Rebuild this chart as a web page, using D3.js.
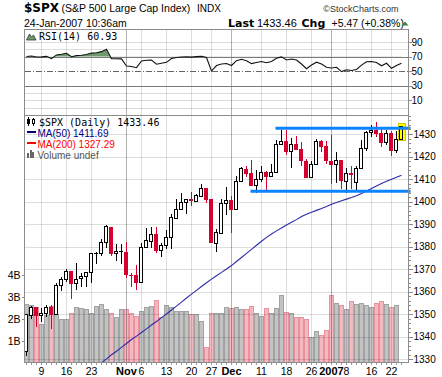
<!DOCTYPE html>
<html>
<head>
<meta charset="utf-8">
<script src="https://cdn.jsdelivr.net/npm/d3@7"></script>
<style>
  body { margin: 0; background: #fff; }
  svg { display: block; }
</style>
</head>
<body>
<div id="chart"></div>
<script>
// trading days shown on the chart
const dates = [
  "2006-10-04","2006-10-05","2006-10-06","2006-10-09","2006-10-10","2006-10-11","2006-10-12","2006-10-13",
  "2006-10-16","2006-10-17","2006-10-18","2006-10-19","2006-10-20","2006-10-23","2006-10-24","2006-10-25",
  "2006-10-26","2006-10-27","2006-10-30","2006-10-31","2006-11-01","2006-11-02","2006-11-03","2006-11-06",
  "2006-11-07","2006-11-08","2006-11-09","2006-11-10","2006-11-13","2006-11-14","2006-11-15","2006-11-16",
  "2006-11-17","2006-11-20","2006-11-21","2006-11-22","2006-11-24","2006-11-27","2006-11-28","2006-11-29",
  "2006-11-30","2006-12-01","2006-12-04","2006-12-05","2006-12-06","2006-12-07","2006-12-08","2006-12-11",
  "2006-12-12","2006-12-13","2006-12-14","2006-12-15","2006-12-18","2006-12-19","2006-12-20","2006-12-21",
  "2006-12-22","2006-12-26","2006-12-27","2006-12-28","2006-12-29","2007-01-03","2007-01-04","2007-01-05",
  "2007-01-08","2007-01-09","2007-01-10","2007-01-11","2007-01-12","2007-01-16","2007-01-17","2007-01-18",
  "2007-01-19","2007-01-22","2007-01-23","2007-01-24"
];

const open = [
  1333.81,1349.84,1353.22,1349.58,1350.62,1353.28,1349.94,1362.82,1365.61,1369.05,1363.93,1365.95,1366.94,1368.58,1377.02,1377.36,
  1382.21,1388.89,1377.30,1377.93,1377.76,1367.44,1367.31,1364.27,1379.75,1382.50,1385.43,1378.33,1380.58,1384.36,1392.91,1396.53,
  1399.76,1401.17,1400.43,1402.69,1405.94,1400.95,1381.61,1386.11,1399.47,1400.63,1396.67,1409.10,1414.40,1412.86,1407.27,1409.81,
  1413.00,1411.32,1413.16,1425.48,1427.08,1422.42,1425.51,1423.20,1418.10,1410.75,1416.63,1426.77,1424.71,1418.03,1416.60,1418.34,
  1409.26,1412.84,1408.70,1414.84,1423.82,1430.73,1431.77,1430.59,1426.35,1430.47,1422.95,1427.96
];
const high = [
  1350.20,1353.79,1353.22,1352.69,1354.23,1353.97,1363.76,1366.63,1370.20,1369.05,1372.87,1368.09,1368.66,1377.40,1377.78,1383.61,
  1389.45,1388.89,1381.22,1381.21,1381.95,1368.39,1371.68,1381.40,1388.19,1388.61,1388.92,1381.47,1387.61,1394.49,1401.35,1403.76,
  1401.21,1404.37,1403.49,1407.89,1405.94,1400.95,1387.91,1401.14,1406.30,1402.46,1411.23,1415.27,1415.93,1418.27,1414.09,1415.60,
  1413.78,1416.64,1427.23,1431.63,1431.81,1428.30,1429.05,1426.40,1418.82,1417.91,1427.72,1427.26,1427.00,1429.42,1421.84,1418.34,
  1414.98,1415.61,1415.99,1427.12,1431.23,1433.93,1435.27,1432.96,1431.57,1431.39,1431.33,1433.46
];
const low = [
  1331.48,1347.75,1344.21,1346.55,1348.60,1343.57,1349.94,1360.50,1364.48,1356.87,1360.95,1362.06,1362.10,1363.94,1372.42,1376.00,
  1379.47,1375.85,1373.46,1372.19,1366.26,1362.21,1360.98,1364.27,1379.19,1379.33,1377.31,1375.60,1378.80,1379.07,1392.13,1396.53,
  1394.55,1397.85,1399.99,1402.26,1399.25,1381.44,1377.83,1386.11,1393.83,1385.93,1396.67,1408.78,1411.05,1406.80,1403.67,1408.56,
  1404.75,1411.05,1413.16,1425.48,1420.65,1414.88,1423.51,1415.90,1410.28,1410.45,1416.63,1422.05,1416.84,1407.86,1408.43,1405.75,
  1403.97,1405.42,1405.32,1414.84,1422.58,1428.62,1428.57,1424.21,1425.19,1420.40,1421.66,1427.96
];
const close = [
  1350.20,1353.22,1349.59,1350.66,1353.42,1349.95,1362.83,1365.62,1369.06,1364.05,1365.80,1366.96,1368.60,1377.02,1377.38,1382.22,
  1389.08,1377.34,1377.93,1377.94,1367.81,1367.34,1364.30,1379.78,1382.84,1385.72,1378.33,1380.90,1384.42,1393.22,1396.57,1399.76,
  1401.20,1400.50,1402.81,1406.09,1400.95,1381.96,1386.72,1399.48,1400.63,1396.71,1409.12,1414.76,1412.90,1407.29,1409.84,1413.04,
  1411.56,1413.21,1425.49,1427.09,1422.48,1425.55,1423.53,1418.30,1410.76,1416.90,1426.84,1424.73,1418.30,1416.60,1418.34,1409.71,
  1412.84,1412.11,1414.85,1423.82,1430.73,1431.90,1430.62,1426.37,1430.50,1422.95,1427.99,1433.46
];
// volume in billions (last bar not yet reported)
const volume = [
  2.68,2.62,2.56,1.77,2.18,2.58,2.20,2.00,1.98,2.28,2.53,2.50,2.47,2.28,2.59,2.68,
  2.44,2.28,2.10,2.44,2.44,2.28,2.13,2.37,2.53,2.59,2.87,2.10,2.64,2.56,2.37,2.37,
  2.37,2.22,2.22,1.92,0.72,2.28,2.28,2.25,2.53,2.48,2.53,2.44,2.44,2.58,2.25,2.13,
  2.48,2.28,2.48,3.10,2.30,2.28,2.10,2.07,2.00,1.16,1.45,1.26,1.47,3.10,2.72,2.64,
  2.44,2.80,2.68,2.71,2.64,2.56,2.71,2.82,2.67,2.56,2.64,null
];
const rsi = [
  70.3,71.0,69.6,69.8,70.5,67.3,72.5,73.5,74.7,70.0,71.5,72.0,73.0,75.0,75.5,77.0,
  80.2,67.3,67.2,67.0,57.2,56.5,54.9,64.1,65.1,65.5,59.6,61.0,62.3,67.6,68.9,69.6,
  69.9,69.5,70.2,70.6,69.0,50.3,57.9,60.0,60.7,57.9,64.5,66.5,64.5,60.5,62.0,63.5,
  61.8,63.5,68.0,69.8,65.5,66.8,65.5,60.0,53.5,58.5,62.5,60.0,55.5,54.5,55.5,49.5,
  52.0,51.0,52.5,58.5,63.0,63.5,62.0,57.5,61.0,54.0,58.0,60.93
];
const ma50 = [
  null,null,null,null,null,null,null,null,null,null,null,null,null,null,1326.8,1328.5,
  1330.2,1332.0,1333.6,1335.3,1337.0,1338.8,1340.3,1341.9,1343.5,1345.2,1346.8,1348.5,1350.1,1351.9,1353.6,1355.4,
  1357.2,1358.9,1360.6,1362.3,1364.0,1365.6,1367.1,1368.6,1370.1,1371.6,1373.4,1375.2,1377.0,1378.8,1380.6,1382.4,
  1384.1,1385.6,1387.0,1388.3,1389.6,1390.8,1392.0,1393.4,1394.4,1395.3,1396.1,1396.9,1397.8,1398.8,1399.6,1400.4,
  1401.1,1401.8,1402.6,1403.6,1404.7,1405.8,1406.9,1408.0,1409.0,1409.9,1410.8,1411.69
];
const ma200Last = 1327.29;

const tickDates = ["2006-10-09","2006-10-16","2006-10-23","2006-11-01","2006-11-06","2006-11-13","2006-11-20","2006-11-27",
  "2006-12-01","2006-12-11","2006-12-18","2006-12-26","2007-01-03","2007-01-08","2007-01-16","2007-01-22"];
const tickLabels = ["9","16","23","Nov","6","13","20","27","Dec","11","18","26","2007","8","16","22"];
const monthLabels = ["Nov","Dec","2007"];
const priceTicks = [1330,1340,1350,1360,1370,1380,1390,1400,1410,1420,1430];
const rsiTicks = [90,70,50,30,10];
const volTicks = [1,2,3,4];
// hand drawn trend lines: start date and level
const lineStarts = ["2006-12-14","2006-12-07"];
const lineLevels = [1432.5,1404.6];

const W = 442, H = 377;
const plotL = 24.5, plotR = 408.5;
const rsiTop = 29.5, rsiBot = 115.5, mainTop = 115.5, mainBot = 362.5;
const red = "#d6002e";

const svg = d3.select("#chart").append("svg")
  .attr("width", W).attr("height", H)
  .style("font-family", "'Liberation Sans', Arial, sans-serif");

const x = d3.scaleLinear().domain([0, dates.length - 1]).range([26.5, 401.5]);
const yP = d3.scaleLinear().domain([1330, 1430]).range([359.3, 134]);
const yR = d3.scaleLinear().domain([10, 90]).range([100.3, 42.2]);
const yV = d3.scaleLinear().domain([0, 4]).range([362.6, 275]);

const defs = svg.append("defs");
defs.append("clipPath").attr("id", "clipMain").append("rect")
  .attr("x", plotL).attr("y", mainTop).attr("width", plotR - plotL).attr("height", mainBot - mainTop);
defs.append("clipPath").attr("id", "clipRsi").append("rect")
  .attr("x", plotL).attr("y", rsiTop).attr("width", plotR - plotL).attr("height", rsiBot - rsiTop);
defs.append("clipPath").attr("id", "clipOver").append("rect")
  .attr("x", plotL).attr("y", rsiTop).attr("width", plotR - plotL).attr("height", yR(70) - rsiTop);

// ---------- header ----------
svg.append("text").attr("x", 24).attr("y", 12)
  .style("font-family", "'DejaVu Sans', sans-serif").style("font-weight", "bold").style("font-size", "12px")
  .text("$SPX");
svg.append("text").attr("x", 61.5).attr("y", 12).style("font-size", "10.5px").text("(S&P 500 Large Cap Index)");
svg.append("text").attr("x", 197).attr("y", 12).style("font-size", "10px").text("INDX");
svg.append("text").attr("x", 398.5).attr("y", 11.5).attr("text-anchor", "end")
  .style("font-size", "9px").attr("fill", "#333").text("\u00a9StockCharts.com");
svg.append("text").attr("x", 24).attr("y", 26.5).style("font-size", "10.5px").text("24-Jan-2007 10:36am");
svg.append("text").attr("x", 228).attr("y", 26.5)
  .style("font-family", "'DejaVu Sans', sans-serif").style("font-weight", "bold").style("font-size", "11px").text("Last");
svg.append("text").attr("x", 257).attr("y", 26.5).style("font-size", "11px").text("1433.46");
svg.append("text").attr("x", 301.5).attr("y", 26.5)
  .style("font-family", "'DejaVu Sans', sans-serif").style("font-weight", "bold").style("font-size", "11px").text("Chg");
svg.append("text").attr("x", 331.5).attr("y", 26.5).style("font-size", "10.5px").text("+5.47 (+0.38%)");
svg.append("path").attr("d", "M401.5,25.5L408.5,25.5L405,21.5Z").attr("fill", "#2e8b3e");

// ---------- grids ----------
const grid = svg.append("g").attr("shape-rendering", "crispEdges");
// RSI light horizontal lines
[0, 10, 20, 80, 90].forEach(v => {
  grid.append("line").attr("x1", plotL).attr("x2", plotR)
    .attr("y1", Math.round(yR(v)) + 0.5).attr("y2", Math.round(yR(v)) + 0.5)
    .attr("stroke", "#dcdcdc");
});

// volume bars (under the grid)
const volG = svg.append("g").attr("clip-path", "url(#clipMain)").attr("shape-rendering", "crispEdges");
volG.selectAll("rect").data(volume.map((v, i) => ({ v, i })).filter(d => d.v != null))
  .join("rect")
  .attr("x", d => x(d.i) - 2)
  .attr("width", 4)
  .attr("y", d => Math.round(yV(d.v)) + 0.5)
  .attr("height", d => mainBot - Math.round(yV(d.v)) - 0.5)
  .attr("fill", d => (d.i > 0 && close[d.i] < close[d.i - 1]) ? "#f4b8c1" : "#c3c3c3")
  .attr("stroke", d => (d.i > 0 && close[d.i] < close[d.i - 1]) ? "#e8919f" : "#a2a2a2");

// price grid over the bars
const grid2 = svg.append("g").attr("shape-rendering", "crispEdges");
priceTicks.forEach(v => {
  grid2.append("line").attr("x1", plotL).attr("x2", plotR)
    .attr("y1", Math.round(yP(v)) + 0.5).attr("y2", Math.round(yP(v)) + 0.5)
    .attr("stroke", "#000").attr("stroke-opacity", 0.13);
});
tickDates.forEach((d, j) => {
  const k = dates.indexOf(d);
  const isMonth = monthLabels.includes(tickLabels[j]);
  grid2.append("line").attr("x1", x(k)).attr("x2", x(k)).attr("y1", rsiTop).attr("y2", mainBot)
    .attr("stroke", "#000").attr("stroke-opacity", isMonth ? 0.3 : 0.13);
});
// RSI reference levels
[70, 30].forEach(v => {
  grid2.append("line").attr("x1", plotL).attr("x2", plotR)
    .attr("y1", Math.round(yR(v)) + 0.5).attr("y2", Math.round(yR(v)) + 0.5)
    .attr("stroke", "#7a7a7a");
});
grid2.append("line").attr("x1", plotL).attr("x2", plotR)
  .attr("y1", Math.round(yR(50)) + 0.5).attr("y2", Math.round(yR(50)) + 0.5)
  .attr("stroke", "#666").attr("stroke-dasharray", "6,2,1,2");

// ---------- RSI ----------
const rsiG = svg.append("g").attr("clip-path", "url(#clipRsi)");
rsiG.append("path").datum(rsi)
  .attr("clip-path", "url(#clipOver)")
  .attr("d", d3.area().x((d, i) => x(i)).y0(yR(70)).y1(d => yR(d)))
  .attr("fill", "#6f9a6f");
rsiG.append("path").datum(rsi)
  .attr("d", d3.line().x((d, i) => x(i)).y(d => yR(d)))
  .attr("fill", "none").attr("stroke", "#111").attr("stroke-width", 1.1);

// ---------- price panel ----------
const priceG = svg.append("g").attr("clip-path", "url(#clipMain)");
priceG.append("path").datum(ma50)
  .attr("d", d3.line().defined(d => d != null).x((d, i) => x(i)).y(d => yP(d)))
  .attr("fill", "none").attr("stroke", "#2b2ba6").attr("stroke-width", 1.1);

const candleG = priceG.append("g").attr("shape-rendering", "crispEdges");
// yellow highlight on the latest bar
const last = dates.length - 1;
candleG.append("rect")
  .attr("x", x(last) - 3.5).attr("width", 7)
  .attr("y", Math.round(yP(high[last])) - 2.5)
  .attr("height", Math.round(yP(low[last])) - Math.round(yP(high[last])) + 4)
  .attr("fill", "#ffff00").attr("stroke", "#d6c800");

dates.forEach((d, i) => {
  const down = i > 0 ? close[i] < close[i - 1] : false;
  const col = down ? red : "#000";
  const hollow = close[i] >= open[i];
  const cx = x(i);
  candleG.append("line").attr("x1", cx).attr("x2", cx)
    .attr("y1", yP(high[i])).attr("y2", yP(low[i]))
    .attr("stroke", col);
  const top = Math.round(yP(Math.max(open[i], close[i]))) + 0.5;
  const bot = Math.round(yP(Math.min(open[i], close[i]))) + 0.5;
  candleG.append("rect")
    .attr("x", cx - 2).attr("width", 3)
    .attr("y", top).attr("height", Math.max(bot - top, 0.01))
    .attr("fill", hollow ? (i === last ? "#ffff00" : "#fff") : col)
    .attr("stroke", col);
});

// trend lines
lineStarts.forEach((s, j) => {
  svg.append("line")
    .attr("x1", x(dates.indexOf(s)) - 1).attr("x2", 410.5)
    .attr("y1", yP(lineLevels[j])).attr("y2", yP(lineLevels[j]))
    .attr("stroke", "#0a84ff").attr("stroke-width", 3);
});

// ---------- frames & axes ----------
const frame = svg.append("g").attr("shape-rendering", "crispEdges").attr("fill", "none").attr("stroke", "#8c8c8c");
frame.append("rect").attr("x", plotL).attr("y", rsiTop).attr("width", plotR - plotL).attr("height", rsiBot - rsiTop);
frame.append("rect").attr("x", plotL).attr("y", mainTop).attr("width", plotR - plotL).attr("height", mainBot - mainTop);

function styleAxis(g) {
  g.select(".domain").remove();
  g.selectAll("line").attr("stroke", "#8c8c8c");
  g.selectAll("text").style("font-family", "'Liberation Sans', Arial, sans-serif").style("font-size", "10px").attr("fill", "#000");
}
svg.append("g").attr("transform", `translate(${plotR},0)`).attr("shape-rendering", "crispEdges")
  .call(d3.axisRight(yP).tickValues(d3.range(1330, 1439, 2)).tickSize(2).tickFormat(""))
  .call(styleAxis);
svg.append("g").attr("transform", `translate(${plotR},0)`).attr("shape-rendering", "crispEdges")
  .call(d3.axisRight(yP).tickValues(priceTicks).tickSize(4).tickPadding(1).tickFormat(d3.format("d")))
  .call(styleAxis);
svg.append("g").attr("transform", `translate(${plotR},0)`).attr("shape-rendering", "crispEdges")
  .call(d3.axisRight(yR).tickValues(rsiTicks).tickSize(3).tickPadding(0))
  .call(styleAxis);
svg.append("g").attr("transform", `translate(${plotL},0)`).attr("shape-rendering", "crispEdges")
  .call(d3.axisLeft(yV).tickValues(volTicks).tickSize(3).tickPadding(1).tickFormat(d => d + "B"))
  .call(styleAxis)
  .call(g => g.selectAll("text").style("font-size", "10.5px"));

// bottom axis
const bx = svg.append("g").attr("shape-rendering", "crispEdges");
dates.forEach((d, i) => {
  bx.append("line").attr("x1", x(i)).attr("x2", x(i)).attr("y1", mainBot).attr("y2", mainBot + 2).attr("stroke", "#9a9a9a");
});
tickDates.forEach((d, j) => {
  const isMonth = monthLabels.includes(tickLabels[j]);
  svg.append("text").attr("x", x(dates.indexOf(d))).attr("y", 374.5).attr("text-anchor", "middle")
    .style("font-size", isMonth ? "11px" : "10.5px").style("font-weight", isMonth ? "bold" : "normal")
    .text(tickLabels[j]);
});

// ---------- legends ----------
svg.append("path").attr("d", "M26.5,40L29.5,34L31.5,37L33.5,35L36,40Z").attr("fill", "#6f9a6f").attr("stroke", "#333").attr("stroke-width", 0.8);
svg.append("text").attr("x", 39).attr("y", 39.5)
  .style("font-family", "'DejaVu Sans Mono', monospace").style("font-size", "10px")
  .text("RSI(14) " + rsi[last].toFixed(2));

const lg = svg.append("g").attr("shape-rendering", "crispEdges");
lg.append("line").attr("x1", 28.5).attr("x2", 28.5).attr("y1", 117).attr("y2", 126).attr("stroke", "#000");
lg.append("rect").attr("x", 27).attr("y", 119).attr("width", 3).attr("height", 5).attr("fill", "#000");
lg.append("line").attr("x1", 33.5).attr("x2", 33.5).attr("y1", 118).attr("y2", 126).attr("stroke", "#000");
lg.append("rect").attr("x", 32.5).attr("y", 119.5).attr("width", 2).attr("height", 4).attr("fill", "#fff").attr("stroke", "#000");
svg.append("text").attr("x", 39).attr("y", 126)
  .style("font-family", "'DejaVu Sans Mono', monospace").style("font-size", "10px")
  .text("$SPX (Daily) " + close[last].toFixed(2));

lg.append("rect").attr("x", 27).attr("y", 131).attr("width", 9).attr("height", 2).attr("fill", "#00007f");
svg.append("text").attr("x", 37.5).attr("y", 136.5).style("font-size", "10px").attr("fill", "#00007f")
  .text("MA(50) " + ma50[last].toFixed(2));
lg.append("rect").attr("x", 27).attr("y", 142).attr("width", 9).attr("height", 2).attr("fill", "#ff0000");
svg.append("text").attr("x", 37.5).attr("y", 147.5).style("font-size", "10px").attr("fill", "#ff0000")
  .text("MA(200) " + ma200Last.toFixed(2));
[[27, 153, 5], [29.5, 150, 8], [32, 152, 6]].forEach(b => {
  lg.append("rect").attr("x", b[0]).attr("y", b[1]).attr("width", 2).attr("height", b[2]).attr("fill", "#666");
});
svg.append("text").attr("x", 37.5).attr("y", 158.5).style("font-size", "10px").attr("fill", "#555")
  .text("Volume undef");
</script>
</body>
</html>
